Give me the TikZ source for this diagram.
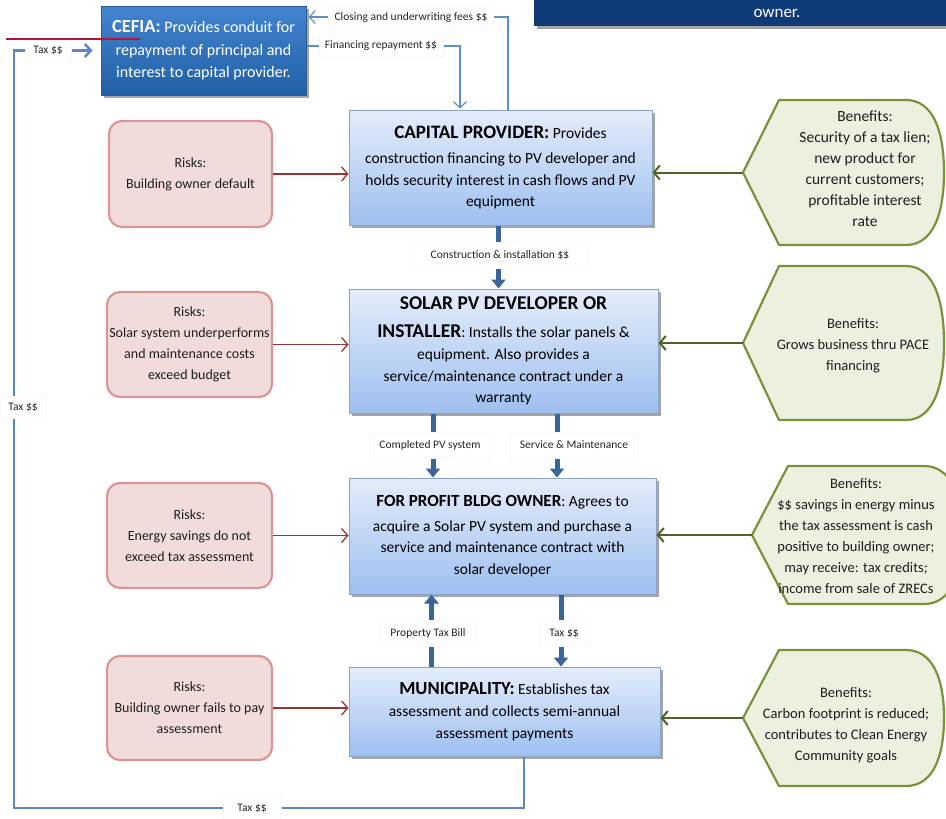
\documentclass[tikz,border=0pt]{standalone}
\usepackage{fontspec}
\setmainfont{Carlito}
\usetikzlibrary{arrows.meta,shadows}

\definecolor{boxtop}{HTML}{E4EDFB}
\definecolor{boxbot}{HTML}{9EBFF0}
\definecolor{boxline}{HTML}{8CA3C4}
\definecolor{cefiatop}{HTML}{4384CF}
\definecolor{cefiabot}{HTML}{2160A6}
\definecolor{cefialine}{HTML}{2A5B92}
\definecolor{bannerblue}{HTML}{0F3A78}
\definecolor{riskfill}{HTML}{F2DCDB}
\definecolor{riskline}{HTML}{D99694}
\definecolor{riskarrowc}{HTML}{943634}
\definecolor{benfill}{HTML}{EBF1DE}
\definecolor{benline}{HTML}{77933C}
\definecolor{benarrowc}{HTML}{4F6228}
\definecolor{flowblue}{HTML}{3A659B}
\definecolor{loopblue}{HTML}{5B88C3}
\definecolor{thinblue}{HTML}{5F8DC8}
\definecolor{crimson}{HTML}{B3143C}
\definecolor{textgray}{HTML}{1E1E1E}

\tikzset{
  boxshadow/.style={drop shadow={shadow xshift=2.5pt,shadow yshift=-2.5pt,opacity=0.35,fill=black}},
  mainbox/.style={draw=boxline,line width=1pt,top color=boxtop,bottom color=boxbot,
    align=center,inner sep=0pt,text=black,font=\fontsize{15.5}{21.5}\selectfont,boxshadow},
  cefiabox/.style={draw=cefialine,line width=1pt,top color=cefiatop,bottom color=cefiabot,
    align=center,inner sep=0pt,text=white,font=\fontsize{16}{22.5}\selectfont,boxshadow},
  riskbox/.style={draw=riskline,fill=riskfill,line width=2.2pt,rounded corners=13pt,
    align=center,inner sep=0pt,text=textgray,font=\fontsize{14}{21}\selectfont},
  benefit/.style={draw=benline,fill=benfill,line width=2.2pt,line join=round},
  bentext/.style={align=center,inner sep=0pt,text=textgray,font=\fontsize{14.5}{21}\selectfont},
  riskarrow/.style={draw=riskarrowc,line width=1.3pt,-{Straight Barb[length=6pt,width=14pt]}},
  benarrow/.style={draw=benarrowc,line width=2pt,-{Straight Barb[length=6pt,width=14pt]}},
  flowarrow/.style={draw=flowblue,line width=5pt,-{Triangle[length=9pt,width=14pt]}},
  thinflow/.style={draw=thinblue,line width=1.2pt,-{Straight Barb[length=6pt,width=13pt]}},
  loopline/.style={draw=loopblue,line width=2.5pt,-{Straight Barb[length=6pt,width=13pt]}},
  flowlabel/.style={fill=white,draw=black!3,line width=0.3pt,inner xsep=10pt,minimum height=26pt,
    text=black!85,font=\fontsize{11.5}{13}\selectfont},
}

% benefit outline: left point, slanted sides, rounded right side
% #1 point x, #2 top y, #3 bottom y, #4 right x, #5 name of the point
\newcommand\benefitbox[5]{%
  \draw[benefit] ({#1},{(#2+#3)/2}) coordinate (#5)
    -- ({#1+36},{#2}) -- ({#4-38},{#2})
    .. controls ({#4-12},{#2}) and ({#4},{#2+0.2*(#3-#2)}) .. ({#4},{(#2+#3)/2})
    .. controls ({#4},{#3-0.2*(#3-#2)}) and ({#4-12},{#3}) .. ({#4-38},{#3})
    -- ({#1+36},{#3}) -- cycle;}

\begin{document}
\begin{tikzpicture}[x=1pt,y=-1pt]
\useasboundingbox (0,0) rectangle (946,819);

% banner strip at the top right
\fill[bannerblue,boxshadow] (534,-10) rectangle (946,26);
\node[text=white,font=\fontsize{17}{20}\selectfont] (bannertext) at (777,13) {owner.};

% central column
\node[cefiabox,minimum width=205pt,minimum height=89pt] (cefia) at (203.5,50.5)
  {{\fontsize{18.5}{22.5}\selectfont\bfseries CEFIA:} Provides conduit for\\repayment of principal and\\interest to capital provider.};

\node[mainbox,minimum width=303pt,minimum height=115pt] (cap) at (500.5,167.5)
  {{\bfseries\fontsize{19}{22}\selectfont CAPITAL PROVIDER:} Provides\\[4pt]construction financing to PV developer and\\holds security interest in cash flows and PV\\equipment};

\node[mainbox,minimum width=309pt,minimum height=124pt] (sol) at (503.5,351)
  {{\bfseries\fontsize{19.5}{22}\selectfont SOLAR PV DEVELOPER OR}\\[6pt]{\bfseries\fontsize{19.5}{22}\selectfont INSTALLER}: Installs the solar panels \&\\[1pt]equipment. Also provides a\\service/maintenance contract under a\\warranty};

\node[mainbox,minimum width=307pt,minimum height=116pt] (own) at (502.5,536)
  {{\bfseries\fontsize{17}{22}\selectfont FOR PROFIT BLDG OWNER}: Agrees to\\[3pt]acquire a Solar PV system and purchase a\\service and maintenance contract with\\solar developer};

\node[mainbox,minimum width=311pt,minimum height=89pt] (mun) at (504.5,711.5)
  {{\bfseries\fontsize{18.5}{22}\selectfont MUNICIPALITY:} Establishes tax\\[1pt]assessment and collects semi-annual\\assessment payments};

% risks
\node[riskbox,minimum width=163pt,minimum height=106pt] (r1) at (190.5,174) {Risks:\\Building owner default};
\node[riskbox,minimum width=165pt,minimum height=105pt] (r2) at (189.5,344.5) {Risks:\\Solar system underperforms\\and maintenance costs\\exceed budget};
\node[riskbox,minimum width=165pt,minimum height=105pt] (r3) at (189.5,535.5) {Risks:\\Energy savings do not\\exceed tax assessment};
\node[riskbox,minimum width=165pt,minimum height=104pt] (r4) at (189.5,708) {Risks:\\Building owner fails to pay\\assessment};

% benefits
\benefitbox{743}{100}{245}{944}{b1}
\node[bentext,font=\fontsize{15.5}{21}\selectfont] (b1t) at (865,169) {Benefits:\\Security of a tax lien;\\new product for\\current customers;\\profitable interest\\rate};
\benefitbox{743}{266}{420}{944}{b2}
\node[bentext] (b2t) at (853,346) {Benefits:\\Grows business thru PACE\\financing};
\benefitbox{752}{466}{604}{962}{b3}
\node[bentext] (b3t) at (856,536) {Benefits:\\\$\$ savings in energy minus\\the tax assessment is cash\\positive to building owner;\\may receive: tax credits;\\income from sale of ZRECs};
\benefitbox{743}{650}{786}{944}{b4}
\node[bentext] (b4t) at (846,725) {Benefits:\\Carbon footprint is reduced;\\contributes to Clean Energy\\Community goals};

% risk and benefit connectors
\draw[riskarrow] (r1.east) -- (r1.east -| cap.west);
\draw[riskarrow] (r2.east) -- (r2.east -| sol.west);
\draw[riskarrow] (r3.east) -- (r3.east -| own.west);
\draw[riskarrow] (r4.east) -- (r4.east -| mun.west);
\draw[benarrow] (b1) -- (b1 -| cap.east);
\draw[benarrow] (b2) -- (b2 -| sol.east);
\draw[benarrow] (b3) -- (b3 -| own.east);
\draw[benarrow] (b4) -- (b4 -| mun.east);

% money and product flows between the parties
\draw[flowarrow] ([xshift=-2pt]cap.south) -- ([xshift=-2pt]cap.south |- sol.north);
\draw[flowarrow] ([xshift=-70.5pt]sol.south) -- ([xshift=-70.5pt]sol.south |- own.north);
\draw[flowarrow] ([xshift=53.5pt]sol.south) -- ([xshift=53.5pt]sol.south |- own.north);
\draw[flowarrow] ([xshift=-73pt]mun.north) -- ([xshift=-73pt]mun.north |- own.south);
\draw[flowarrow] ([xshift=58.5pt]own.south) -- ([xshift=58.5pt]own.south |- mun.north);

\node[flowlabel,inner xsep=18pt] (lconst) at (500,255) {Construction \& installation \$\$};
\node[flowlabel] (lpv) at (430,445) {Completed PV system};
\node[flowlabel] (lserv) at (574,445) {Service \& Maintenance};
\node[flowlabel] (lbill) at (428,633) {Property Tax Bill};
\node[flowlabel] (ltax) at (564,633) {Tax \$\$};

% CEFIA and capital provider
\draw[thinflow,shorten >=2pt] ([xshift=7.5pt]cap.north) |- ([yshift=33.5pt]cefia.east);
\draw[thinflow,shorten >=1pt] ([yshift=4.5pt]cefia.east) -| ([xshift=-40.5pt]cap.north);
\node[flowlabel,minimum height=20pt,inner xsep=6pt] (lfees) at (411,17) {Closing and underwriting fees \$\$};
\node[flowlabel,minimum height=20pt,inner xsep=6pt] (lrepay) at (381,46) {Financing repayment \$\$};

% tax payments from the municipality to CEFIA
\coordinate (loopbl) at (14,808);
\draw[loopline,shorten >=8pt] ([xshift=19.5pt]mun.south) |- (loopbl) |- (cefia.west);
\node[flowlabel,minimum height=20pt,inner xsep=8pt] (ltaxtop) at (48,50.5) {Tax \$\$};
\node[flowlabel,minimum height=22pt,inner xsep=8pt] (ltaxleft) at (23,407) {Tax \$\$};
\node[flowlabel,minimum height=20pt,inner xsep=14pt] (ltaxbot) at (252,808) {Tax \$\$};

% red rule across the CEFIA box
\coordinate (redA) at (6,39);
\coordinate (redB) at (140,39);
\draw[crimson,line width=2pt] (redA) -- (redB);
\end{tikzpicture}
\end{document}
